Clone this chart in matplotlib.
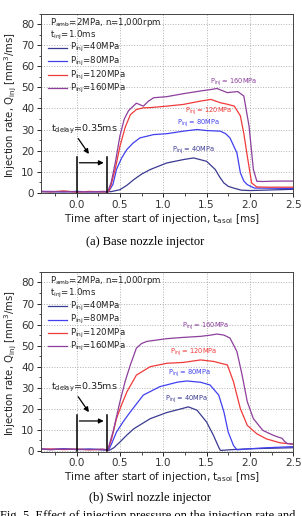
import matplotlib
matplotlib.use("Agg")
import matplotlib.pyplot as plt
from matplotlib.ticker import MultipleLocator

# pressures and colours
labels = ["40MPa", "80MPa", "120MPa", "160MPa"]
colors = ["#3a3a92", "#4040f0", "#f03a3a", "#8c3f9c"]

# ---- (a) base nozzle injector ----
base_t40 = [-0.41, -0.3, -0.15, 0.0, 0.15, 0.3, 0.40, 0.50, 0.58, 0.66, 0.75, 0.85, 1.04, 1.23, 1.35,
            1.50, 1.60, 1.65, 1.70, 1.75, 1.81, 1.90, 2.00, 2.50]
base_q40 = [0.5, 0.4, 0.6, 0.4, 0.5, 0.4, 0.5, 1.4, 3.5, 6.2, 8.8, 11.0, 14.1, 15.7, 16.5,
            14.9, 11.0, 7.5, 4.6, 3.0, 2.2, 1.2, 1.0, 1.6]
base_t80 = [-0.41, -0.3, -0.15, 0.0, 0.15, 0.3, 0.37, 0.42, 0.46, 0.52, 0.58, 0.65, 0.73, 0.89, 1.04,
            1.23, 1.39, 1.50, 1.66, 1.72, 1.77, 1.85, 1.89, 1.93, 1.97, 2.05, 2.50]
base_q80 = [0.6, 0.5, 0.4, 0.6, 0.4, 0.5, 0.5, 4.0, 11.0, 16.5, 20.5, 23.5, 26.0, 27.6, 28.0,
            29.2, 30.0, 29.5, 29.2, 28.0, 26.0, 18.9, 9.4, 5.5, 3.8, 2.2, 2.0]
base_t120 = [-0.41, -0.3, -0.15, 0.0, 0.15, 0.3, 0.37, 0.40, 0.45, 0.50, 0.56, 0.62, 0.69, 0.77, 0.85,
             1.04, 1.23, 1.43, 1.55, 1.66, 1.74, 1.82, 1.89, 1.93, 1.97, 2.02, 2.08, 2.20, 2.50]
base_q120 = [0.6, 0.4, 0.8, 0.3, 0.6, 0.4, 0.5, 4.0, 12.0, 22.0, 31.0, 37.0, 39.5, 40.3, 40.4,
             41.1, 41.9, 43.5, 44.3, 42.7, 42.0, 41.1, 36.5, 28.0, 17.3, 4.6, 2.7, 2.6, 2.6]
base_t160 = [-0.41, -0.3, -0.15, 0.0, 0.15, 0.3, 0.36, 0.40, 0.45, 0.50, 0.55, 0.60, 0.69, 0.77, 0.83,
             0.89, 1.04, 1.23, 1.43, 1.55, 1.62, 1.68, 1.74, 1.80, 1.86, 1.93, 1.99, 2.04, 2.08,
             2.15, 2.30, 2.50]
base_q160 = [0.5, 0.6, 0.4, 0.5, 0.4, 0.6, 0.5, 5.0, 15.0, 27.0, 35.0, 39.0, 42.5, 41.1, 43.5,
             45.1, 45.6, 47.0, 48.3, 49.0, 49.5, 48.5, 47.5, 47.8, 48.0, 45.9, 31.6, 11.0, 5.4,
             5.3, 5.5, 5.5]

# ---- (b) swirl nozzle injector ----
swirl_t40 = [-0.41, -0.3, -0.15, 0.0, 0.15, 0.3, 0.38, 0.43, 0.50, 0.58, 0.66, 0.85, 1.04, 1.19, 1.29,
             1.39, 1.50, 1.58, 1.64, 1.66, 1.80, 2.00, 2.20, 2.50]
swirl_q40 = [0.8, 0.6, 0.9, 0.7, 0.8, 0.5, 0.3, 1.5, 4.2, 7.5, 10.5, 15.3, 18.2, 19.8, 20.9,
             19.3, 13.7, 7.3, 1.7, 0.2, 0.6, 1.0, 1.2, 1.5]
swirl_t80 = [-0.41, -0.3, -0.15, 0.0, 0.15, 0.3, 0.37, 0.40, 0.46, 0.54, 0.62, 0.77, 0.96, 1.16, 1.27,
             1.43, 1.54, 1.64, 1.70, 1.75, 1.81, 1.85, 2.00, 2.20, 2.50]
swirl_q80 = [0.9, 0.7, 1.0, 0.6, 0.8, 0.6, 0.5, 3.0, 8.9, 14.0, 18.5, 26.5, 30.5, 32.6, 33.2,
             32.6, 31.3, 26.5, 18.5, 8.9, 2.6, 0.5, 1.0, 1.5, 2.0]
swirl_t120 = [-0.41, -0.3, -0.15, 0.0, 0.15, 0.3, 0.36, 0.40, 0.46, 0.52, 0.58, 0.69, 0.85, 1.04, 1.23,
              1.43, 1.58, 1.74, 1.81, 1.89, 1.97, 2.08, 2.19, 2.35, 2.50]
swirl_q120 = [0.7, 0.9, 0.6, 0.8, 0.5, 0.7, 0.5, 5.0, 15.3, 22.0, 28.0, 36.0, 40.0, 41.6, 42.0,
              43.2, 42.5, 40.8, 32.9, 20.0, 12.1, 8.1, 5.7, 3.8, 3.2]
swirl_t160 = [-0.41, -0.3, -0.15, 0.0, 0.15, 0.3, 0.36, 0.42, 0.50, 0.56, 0.62, 0.69, 0.75, 0.81, 1.04,
              1.23, 1.43, 1.55, 1.62, 1.70, 1.77, 1.85, 1.91, 1.97, 2.04, 2.15, 2.27, 2.33, 2.37,
              2.40, 2.43, 2.50]
swirl_q160 = [0.8, 0.6, 0.8, 0.7, 0.6, 0.8, 0.5, 9.0, 23.3, 33.0, 40.8, 48.8, 51.0, 52.0, 53.3,
              53.9, 54.4, 55.0, 55.5, 55.0, 53.6, 47.2, 36.0, 23.3, 15.3, 9.7, 7.4, 6.5, 6.0,
              4.5, 3.5, 3.2]

base_curves = [(base_t40, base_q40), (base_t80, base_q80), (base_t120, base_q120), (base_t160, base_q160)]
swirl_curves = [(swirl_t40, swirl_q40), (swirl_t80, swirl_q80), (swirl_t120, swirl_q120), (swirl_t160, swirl_q160)]

# curve label anchors (t, Q)
base_label_pos = [(1.10, 20.1), (1.16, 33.2), (1.25, 38.7), (1.54, 52.5)]
swirl_label_pos = [(1.02, 24.4), (1.06, 37.1), (1.08, 47.0), (1.215, 59.0)]

t_delay = 0.355


def draw(ax, curves, label_pos):
    for (t, q), c in zip(curves, colors):
        ax.plot(t, q, color=c, lw=0.9)

    ax.set_xlim(-0.41, 2.5)
    ax.set_ylim(-0.3, 85)
    ax.xaxis.set_major_locator(MultipleLocator(0.5))
    ax.xaxis.set_minor_locator(MultipleLocator(0.25))
    ax.yaxis.set_major_locator(MultipleLocator(10))
    ax.yaxis.set_minor_locator(MultipleLocator(5))
    ax.set_xticks([0.0, 0.5, 1.0, 1.5, 2.0, 2.5])
    ax.set_xticklabels(["0.0", "0.5", "1.0", "1.5", "2.0", "2.5"])
    ax.tick_params(which="major", length=3, width=0.6, labelsize=7.5, pad=2, labelcolor="#333333")
    ax.tick_params(which="minor", length=1.8, width=0.5)
    ax.grid(True, which="major", ls=":", color="#b0b0b0", lw=0.7)
    for s in ax.spines.values():
        s.set_linewidth(0.7)
        s.set_color("#444444")

    # header text and legend
    ax.text(0.036, 0.95, r"P$_{\mathrm{amb}}$=2MPa, n=1,000rpm", transform=ax.transAxes,
            fontsize=6.2, va="center", color="#222222")
    ax.text(0.036, 0.878, r"t$_{\mathrm{inj}}$=1.0ms", transform=ax.transAxes,
            fontsize=6.2, va="center", color="#222222")
    rows = [0.81, 0.735, 0.658, 0.585]
    for yy, c, lab in zip(rows, colors, labels):
        ax.plot([0.028, 0.103], [yy, yy], color=c, lw=0.9, transform=ax.transAxes)
        ax.text(0.115, yy, r"P$_{\mathrm{inj}}$=" + lab, transform=ax.transAxes,
                fontsize=6.2, va="center", color="#222222")

    # curve labels
    for (x, y), c, lab in zip(label_pos, colors, labels):
        ax.text(x, y, r"P$_{\mathrm{inj}}$ = " + lab, color=c, fontsize=4.8, va="center", ha="left")

    # injection delay marks
    ax.plot([0.0, 0.0], [0, 17], color="black", lw=1.1)
    ax.plot([t_delay, t_delay], [0, 17], color="black", lw=1.1)
    ax.annotate("", xy=(t_delay - 0.01, 14.2), xytext=(0.0, 14.2),
                arrowprops=dict(arrowstyle="-|>", color="black", lw=0.9, mutation_scale=7))
    ax.annotate("", xy=(0.16, 17.3), xytext=(0.0, 26.8),
                arrowprops=dict(arrowstyle="-|>", color="black", lw=0.9, mutation_scale=7))
    ax.text(-0.29, 30, r"t$_{\mathrm{delay}}$=0.35ms", fontsize=6.8, va="center", ha="left", color="#222222")

    ax.set_xlabel(r"Time after start of injection, t$_{\mathrm{asoi}}$ [ms]", fontsize=7.5, color="#222222")
    ax.xaxis.set_label_coords(0.48, -0.105)
    ax.set_ylabel(r"Injection rate, Q$_{\mathrm{inj}}$ [mm$^3$/ms]", fontsize=7.3, color="#222222")
    ax.yaxis.set_label_coords(-0.118, 0.49)
    ax.yaxis.label.set_va("center")


fig = plt.figure(figsize=(3.02, 5.16), dpi=100)
ax1 = fig.add_axes([0.136, 0.6254, 0.835, 0.348])
ax2 = fig.add_axes([0.136, 0.125, 0.835, 0.348])

draw(ax1, base_curves, base_label_pos)
draw(ax2, swirl_curves, swirl_label_pos)

fig.text(0.48, 1 - 241.7 / 516, "(a) Base nozzle injector", family="Liberation Serif",
         fontsize=9, ha="center", va="center")
fig.text(0.495, 1 - 498 / 516, "(b) Swirl nozzle injector", family="Liberation Serif",
         fontsize=9, ha="center", va="center")
fig.text(0.49, 1 - 510 / 516, "Fig. 5  Effect of injection pressure on the injection rate and",
         family="Liberation Serif", fontsize=9, ha="center", va="top")

fig.savefig("out.png", dpi=100)
